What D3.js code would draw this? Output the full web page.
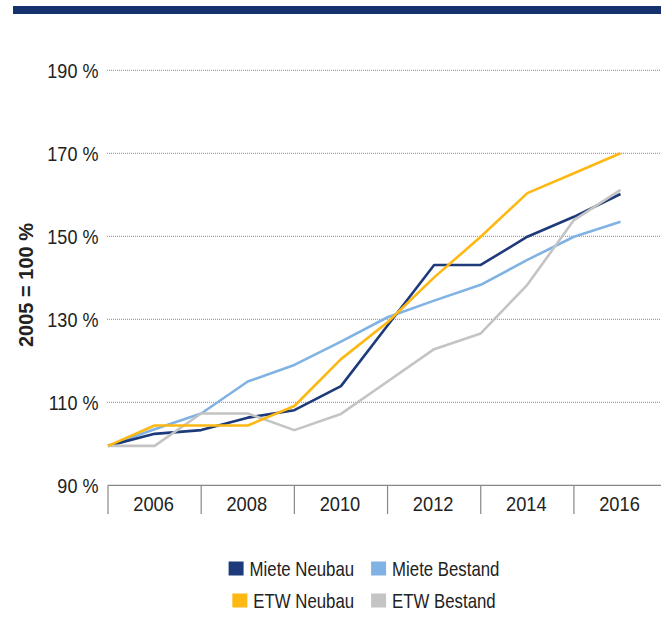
<!DOCTYPE html>
<html>
<head>
<meta charset="utf-8">
<script src="https://cdn.jsdelivr.net/npm/d3@7"></script>
<style>
  body { margin: 0; background: #fff; }
  svg text { font-family: "Liberation Sans", Arial, sans-serif; fill: #222; }
</style>
</head>
<body>
<div id="root"></div>
<script>
const w = 661;
const h = 634;

// data (2005 = 100 %)
const years = [2005, 2006, 2007, 2008, 2009, 2010, 2011, 2012, 2013, 2014, 2015, 2016];
const mieteNeubau   = [99.5, 102.4, 103.3, 106.3, 108.1, 113.9, 128.5, 143.1, 143.1, 149.9, 154.7, 160.2];
const mieteBestand  = [99.5, 103.5, 107.3, 115.0, 119.0, 124.6, 130.5, 134.5, 138.3, 144.3, 149.9, 153.5];
const etwNeubau     = [99.5, 104.4, 104.4, 104.4, 109.1, 120.4, 129.3, 140.1, 149.9, 160.4, 165.2, 170.0];
const etwBestand    = [99.5, 99.5, 107.3, 107.3, 103.3, 107.2, 115.0, 122.8, 126.6, 138.3, 153.9, 161.2];
const tickLabels = [2006, 2008, 2010, 2012, 2014, 2016];
const yTicks = [90, 110, 130, 150, 170, 190];

const series = [
    { name: "Miete Neubau", values: mieteNeubau, color: "#1d3b7a" },
    { name: "Miete Bestand", values: mieteBestand, color: "#80b2e3" },
    { name: "ETW Neubau", values: etwNeubau, color: "#fdb813" },
    { name: "ETW Bestand", values: etwBestand, color: "#c4c4c4" }
];
// drawing order (last on top)
const drawOrder = ["Miete Bestand", "Miete Neubau", "ETW Bestand", "ETW Neubau"];

// no condensed font installed, so squeeze text horizontally
const narrow = (sel, x, y, k) => sel.attr("x", 0).attr("y", 0)
    .attr("transform", "translate(" + x + "," + y + ") scale(" + k + ",1)");

const xScale = d3.scaleLinear()
    .domain([2005, 2016])
    .range([108, 620.5]);

const yScale = d3.scaleLinear()
    .domain([90, 190])
    .range([485.3, 70.3]);

const svg = d3.select("#root")
    .append("svg")
    .attr("width", w)
    .attr("height", h);

// top bar
svg.append("rect")
    .attr("x", 13).attr("y", 6)
    .attr("width", w - 13).attr("height", 8)
    .attr("fill", "#15326f");

// gridlines (dotted)
svg.append("g")
    .selectAll("line")
    .data(yTicks.filter(d => d > 90))
    .enter()
    .append("line")
    .attr("x1", 107).attr("x2", w)
    .attr("y1", d => yScale(d)).attr("y2", d => yScale(d))
    .attr("stroke", "#888")
    .attr("stroke-width", 1)
    .attr("stroke-dasharray", "1,1");

// y axis labels
const yAxis = d3.axisLeft(yScale)
    .tickValues(yTicks)
    .tickSize(0)
    .tickPadding(0)
    .tickFormat(d => d + " %");
svg.append("g")
    .attr("transform", "translate(98.5, 0)")
    .call(yAxis)
    .call(g => g.select(".domain").remove())
    .call(g => g.selectAll("text")
        .attr("dy", "0.36em")
        .attr("fill", "#222")
        .style("font-size", "21px")
        .call(narrow, 0, 0, 0.86));

// y axis title
svg.append("text")
    .attr("transform", "translate(33, 285) rotate(-90)")
    .attr("text-anchor", "middle")
    .style("font-weight", "bold")
    .style("font-size", "20px")
    .text("2005 = 100 %");

// x axis box
const axisG = svg.append("g");
axisG.append("line")
    .attr("x1", 108).attr("x2", w)
    .attr("y1", 485.3).attr("y2", 485.3)
    .attr("stroke", "#888").attr("stroke-width", 1.2);
axisG.selectAll(".divider")
    .data([2005, 2007, 2009, 2011, 2013, 2015])
    .enter()
    .append("line")
    .attr("class", "divider")
    .attr("x1", d => xScale(d)).attr("x2", d => xScale(d))
    .attr("y1", 485.3).attr("y2", 514)
    .attr("stroke", "#888").attr("stroke-width", 1.2);
axisG.selectAll(".xlabel")
    .data(tickLabels)
    .enter()
    .append("text")
    .attr("class", "xlabel")
    .attr("text-anchor", "middle")
    .style("font-size", "21px")
    .text(d => d)
    .each(function(d) { narrow(d3.select(this), xScale(d) - 1, 510.5, 0.87); });

// lines
const line = d3.line()
    .x((d, i) => xScale(years[i]))
    .y(d => yScale(d));

svg.append("g")
    .selectAll("path")
    .data(drawOrder.map(n => series.find(s => s.name === n)))
    .enter()
    .append("path")
    .attr("d", d => line(d.values))
    .attr("fill", "none")
    .attr("stroke", d => d.color)
    .attr("stroke-width", 2.6)
    .attr("stroke-linejoin", "round");

// legend: two rows, each centered
const legendRows = [[series[0], series[1]], [series[2], series[3]]];
const rowY = [576, 608];
const size = 15;
const k = 0.84;
const legend = svg.append("g").attr("id", "legend");

legendRows.forEach((row, r) => {
    const g = legend.append("g");
    let x = 0;
    row.forEach((s, i) => {
        g.append("rect")
            .attr("x", x).attr("y", rowY[r] - 14.5)
            .attr("width", size).attr("height", size - 1)
            .attr("fill", s.color);
        const t = g.append("text")
            .style("font-size", "20px")
            .text(s.name)
            .call(narrow, x + size + 6, rowY[r], k);
        x += size + 6 + t.node().getComputedTextLength() * k + 17;
    });
    const total = x - 17;
    g.attr("transform", "translate(" + (364 - total / 2) + ",0)");
});
</script>
</body>
</html>
